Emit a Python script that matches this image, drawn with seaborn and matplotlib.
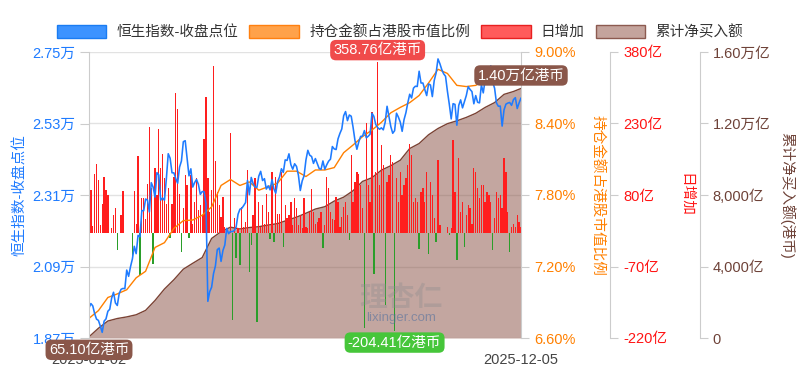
import numpy as np
import pandas as pd
import matplotlib
matplotlib.use("Agg")
import matplotlib.pyplot as plt
import seaborn as sns
from matplotlib.patches import Patch

sns.set_style("white")
plt.rcParams['font.family'] = ['Liberation Sans', 'Noto Sans CJK SC', 'DejaVu Sans']
plt.rcParams['axes.unicode_minus'] = False

# 港股交易日 (剔除香港假期)
hk_holidays = ['2025-01-29', '2025-01-30', '2025-01-31', '2025-04-04', '2025-04-18',
               '2025-04-21', '2025-05-01', '2025-05-05', '2025-07-01', '2025-10-01',
               '2025-10-07', '2025-10-29']
dates = pd.bdate_range('2025-01-02', '2025-12-05')
dates = dates[~dates.isin(pd.to_datetime(hk_holidays))]

# 恒生指数收盘点位 (按月)
hsi_jan = [19623, 19760, 19688, 19448, 19280, 19241, 19065, 18874, 19219, 19287, 19523, 19584,
           19926, 20107, 19779, 19701, 20066, 20198, 20225]
hsi_feb = [20217, 20790, 20597, 20892, 21133, 21522, 21295, 21858, 21815, 22620, 22617, 22977,
           22944, 22577, 23478, 23342, 23035, 23788, 23718, 22941]
hsi_mar = [23006, 22941, 23594, 24370, 24231, 23783, 23782, 23600, 23462, 23959, 24146, 24740,
           24771, 24219, 23690, 23906, 23345, 23483, 23579, 23426, 23120]
hsi_apr = [23206, 23202, 22849, 19828, 20128, 20264, 20681, 20915, 21418, 21467, 21057, 21395,
           21562, 22073, 21910, 21980, 21972, 22008, 22119]
hsi_may = [22505, 22663, 22692, 22775, 22868, 23550, 23109, 23641, 23453, 23345, 23333, 23681,
           23828, 23545, 23602, 23282, 23382, 23258, 23574, 23290]
hsi_jun = [23157, 23512, 23655, 23907, 23793, 24181, 24163, 24367, 24035, 23893, 24061, 23980,
           23711, 23238, 23530, 23690, 24178, 24475, 24325, 24284, 24072]
hsi_jul = [24221, 24069, 23916, 23888, 24148, 23892, 24028, 24140, 24203, 24591, 24518, 24499,
           24826, 24994, 25131, 25539, 25667, 25388, 25562, 25524, 25177, 24773]
hsi_aug = [24507, 24733, 24903, 24911, 25082, 24859, 24907, 24970, 25614, 25520, 25270, 25177,
           25123, 25166, 25105, 25340, 25830, 25525, 25202, 24999, 25078]
hsi_sep = [25617, 25497, 25343, 25059, 25418, 25634, 25938, 26200, 26086, 26388, 26447, 26439,
           26908, 26545, 26546, 26345, 26159, 26519, 26485, 26128, 26623, 26856]
hsi_oct = [27287, 27141, 26958, 26829, 26753, 26291, 25889, 25441, 25910, 25888, 25247, 25859,
           26027, 25781, 25967, 26160, 26434, 26347, 26282, 25907]
hsi_nov = [26159, 25952, 25935, 26486, 26242, 26650, 26697, 26923, 27073, 26573, 26385, 25930,
           25831, 25836, 25220, 25717, 25895, 25928, 25946, 25859]
hsi_dec = [26034, 26095, 25761, 25936, 26085]
hsi = np.array(hsi_jan + hsi_feb + hsi_mar + hsi_apr + hsi_may + hsi_jun + hsi_jul
               + hsi_aug + hsi_sep + hsi_oct + hsi_nov + hsi_dec, dtype=float)

# 日增加 (亿港币)
daily = np.array([
    62, 90, 15, 125, 146, 111, 17, 62, 118, 90, 80, 0, 10, 38, 52, -36, 0, 38, 89, 0,
    0, 0, 0, -53, 89, 20, 162, -88, 73, 74, 30, 104, 222, 94, -64, 136, 80, 218, 136, 167,
    115, 62, 94, -11, 62, 118, 295, 260, 83, -39, 52, 122, 102, -11, 122, 20, 66, 115, 48, 59,
    38, 197, 286, 115, 45, 90, 350, 151, 87, 59, 34, 76, 13, 0, 0, 211, -183, 31, -53, 10,
    -67, 55, 13, 24, 132, -81, -25, 38, 115, -186, 66, 13, 59, 20, 83, 45, -13, 129, -18, 118,
    41, 41, 129, -29, 59, 31, 38, 66, 17, 73, 52, 17, 38, 10, 73, 13, 10, 45, 92, 45,
    20, 24, 31, 45, -32, 17, 118, 94, 45, 30, 27, 76, 66, 13, 34, 55, 66, 38, -15, 164,
    66, 108, 129, 125, 101, 52, -200, 232, 101, 66, 255, -85, 129, 358.76, 101, 185, 143, -151, 108, 122,
    164, 150, -204.41, 115, 66, 129, 80, 101, 115, 143, 188, 164, 66, 73, 66, -34, 87, 94, 66, 129,
    -43, 108, 80, 31, -18, 153, 17, 0, 0, 0, 13, -4, 10, 195, 87, -57, 157, 45, 66, -29,
    38, 59, 52, 20, 136, 129, 94, 73, 101, 101, 66, 87, 80, 66, -36, 31, 87, 73, 80, 52,
    157, 129, 45, -39, 13, 20, 13, 38, 24, 13,
])

# 每5个交易日取样: 持仓金额占港股市值比例(%) 与 累计净买入额(亿港币)
holding_pct = [6.765, 6.83, 6.94, 6.97, 7.005, 7.105, 7.16, 7.36, 7.40, 7.52, 7.585, 7.59,
               7.63, 7.70, 7.88, 7.93, 7.88, 7.91, 7.84, 7.87, 7.90, 8.00, 8.00, 7.955,
               8.01, 8.01, 8.03, 8.155, 8.22, 8.29, 8.345, 8.41, 8.49, 8.535, 8.575, 8.635,
               8.74, 8.855, 8.82, 8.72, 8.71, 8.72, 8.765, 8.78, 8.78, 8.79, 8.80]
cum_buy = [65.10, 545, 950, 1090, 1180, 1300, 1545, 2100, 2740, 3260, 3850, 4180,
           4500, 5570, 5950, 6200, 6100, 6180, 6226, 6321, 6400, 6585, 6760, 6980,
           7215, 7345, 7660, 7880, 8240, 8760, 8967, 9390, 9640, 9945, 10600, 10880,
           11370, 11720, 11990, 12150, 12340, 12570, 12900, 13170, 13630, 13790, 13960]

assert len(dates) == len(hsi) == len(daily)
pos = np.arange(len(dates))              # 类目轴: 交易日顺序
pos_w = np.r_[pos[::5], pos[-1]]
cum_buy = np.array(cum_buy)
holding_pct = np.array(holding_pct)

BLUE, ORANGE, RED, BROWN = '#1E7BFF', '#FF8000', '#FF1414', '#6E4238'
GRID = '#E2E2E2'
AX_LINE = '#CCCCCC'

fig = plt.figure(figsize=(8, 3.75), dpi=100)
L, R, B, T = 89 / 800, 521 / 800, 1 - 338 / 375, 1 - 52 / 375
ax = fig.add_axes([L, B, R - L, T - B])
ax_cum = ax.twinx()
ax_bar = ax.twinx()
ax_pct = ax.twinx()

ax_cum.set_zorder(1)
ax_bar.set_zorder(2)
ax_pct.set_zorder(3)
ax.set_zorder(4)
ax_cum.patch.set_visible(True)
ax_cum.patch.set_facecolor('white')
for a in (ax_bar, ax_pct, ax):
    a.patch.set_visible(False)

# 累计净买入额 (面积)
ax_cum.fill_between(pos_w, 0, cum_buy, color='#884F42', alpha=0.5, lw=0)
sns.lineplot(x=pos_w, y=cum_buy, ax=ax_cum, color='#7A4234', lw=1.0)

# 日增加 (柱)
bar_colors = np.where(daily >= 0, '#FF1E1E', '#2A9E2A')
ax_bar.bar(pos, daily, width=0.7, color=bar_colors, lw=0)

# 持仓比例 / 恒指
sns.lineplot(x=pos_w, y=holding_pct, ax=ax_pct, color=ORANGE, lw=1.0)
sns.lineplot(x=pos, y=hsi, ax=ax, color=BLUE, lw=1.15)

for a in (ax, ax_cum, ax_bar, ax_pct):
    a.set_xlim(pos[0], pos[-1])
    for s in a.spines.values():
        s.set_visible(False)

ax.set_ylim(18700, 27500)
ax_pct.set_ylim(6.6, 9.0)
ax_bar.set_ylim(-220, 380)
ax_cum.set_ylim(0, 16000)

hsi_ticks = np.linspace(18700, 27500, 5)
ax.set_yticks(hsi_ticks, [f'{v / 10000:.2f}万' for v in hsi_ticks])
pct_ticks = np.linspace(6.6, 9.0, 5)
ax_pct.set_yticks(pct_ticks, [f'{v:.2f}%' for v in pct_ticks])
bar_ticks = np.linspace(-220, 380, 5)
ax_bar.set_yticks(bar_ticks, [f'{v:.0f}亿' for v in bar_ticks])
cum_ticks = np.linspace(0, 16000, 5)
cum_labels = []
for v in cum_ticks:
    if v == 0:
        cum_labels.append('0')
    elif v >= 10000:
        cum_labels.append(f'{v / 10000:.2f}万亿')
    else:
        cum_labels.append(f'{v:,.0f}亿')
ax_cum.set_yticks(cum_ticks, cum_labels)

ax_cum.yaxis.grid(True, color=GRID, lw=1)
ax_cum.xaxis.grid(False)

ax.spines['left'].set_visible(True)
ax.spines['left'].set_color(AX_LINE)
ax_pct.spines['right'].set_visible(True)
ax_pct.spines['right'].set_color(AX_LINE)
ax_bar.spines['right'].set_visible(True)
ax_bar.spines['right'].set_color(AX_LINE)
ax_bar.spines['right'].set_position(('outward', 89 * 0.72))
ax_cum.spines['right'].set_visible(True)
ax_cum.spines['right'].set_color(AX_LINE)
ax_cum.spines['right'].set_position(('outward', 179 * 0.72))

fs = 10.5
ax.tick_params(axis='y', length=6.3, color=AX_LINE, labelcolor=BLUE, labelsize=fs, pad=3.5)
ax_pct.tick_params(axis='y', length=5.5, color=AX_LINE, labelcolor=ORANGE, labelsize=fs, pad=4)
ax_bar.tick_params(axis='y', length=5.8, color=AX_LINE, labelcolor=RED, labelsize=fs, pad=3.6)
ax_cum.tick_params(axis='y', length=5.8, color=AX_LINE, labelcolor=BROWN, labelsize=fs, pad=3.4)

ax.set_xticks([pos[0], pos[-1]], [dates[0].strftime('%Y-%m-%d'), dates[-1].strftime('%Y-%m-%d')])
ax.tick_params(axis='x', length=0, labelsize=fs, labelcolor='#444444', pad=11)

ax.set_ylabel('恒生指数-收盘点位', color=BLUE, fontsize=fs, rotation=90, ha='center', va='center')
ax.yaxis.set_label_coords(-0.16, 0.5)
ax_pct.set_ylabel('持仓金额占港股市值比例', color=ORANGE, fontsize=fs, rotation=-90, ha='center', va='center')
ax_pct.yaxis.set_label_coords(1.176, 0.5)
ax_bar.set_ylabel('日增加', color=RED, fontsize=fs, rotation=-90, ha='center', va='center')
ax_bar.yaxis.set_label_coords(1.382, 0.5)
ax_cum.set_ylabel('累计净买入额(港币)', color=BROWN, fontsize=fs, rotation=-90, ha='center', va='center')
ax_cum.yaxis.set_label_coords(1.616, 0.5)


# 标注: 最大/最小日增加, 累计起点/终点
def tag(x, y, trans, text, fc, dy):
    ax.annotate(text, xy=(x, y), xycoords=trans, xytext=(0, dy), textcoords='offset pixels',
                ha='center', va='center', color='white', fontsize=fs,
                bbox=dict(boxstyle='round,pad=0.22,rounding_size=0.4', fc=fc, ec='none'),
                annotation_clip=False, zorder=10)


i_max = int(np.argmax(daily))
i_min = int(np.argmin(daily))
tag(pos[i_max], daily[i_max], ax_bar.transData, f'{daily[i_max]:.2f}亿港币', '#F04B4B', 12)
tag(pos[i_min], daily[i_min], ax_bar.transData, f'{daily[i_min]:.2f}亿港币', '#46C63A', -12)
tag(pos_w[0], cum_buy[0], ax_cum.transData, f'{cum_buy[0]:.2f}亿港币', '#8A574A', -13)
tag(pos_w[-1], cum_buy[-1], ax_cum.transData, f'{cum_buy[-1] / 10000:.2f}万亿港币', '#8A574A', 13)

# 水印
fig.text(0.501, 1 - 299 / 375, '理杏仁', ha='center', va='center', fontsize=20,
         color='#8C8C8C', alpha=0.35, zorder=5, fontweight='bold')
fig.text(0.501, 1 - 318 / 375, 'lixinger.com', ha='center', va='center', fontsize=9.5,
         color='#4E6E9E', alpha=0.55, zorder=5)

# 图例
handles = [
    Patch(facecolor='#3C93FF', edgecolor='#1A7CF2', lw=1, label='恒生指数-收盘点位'),
    Patch(facecolor='#FFA24A', edgecolor='#FF8010', lw=1, label='持仓金额占港股市值比例'),
    Patch(facecolor='#FF5B5B', edgecolor='#E82020', lw=1, label='日增加'),
    Patch(facecolor='#C4A49D', edgecolor='#8C5A50', lw=1, label='累计净买入额'),
]
fig.legend(handles=handles, loc='center', bbox_to_anchor=(0.5, 1 - 32 / 375), ncol=4,
           frameon=False, handlelength=3.4, handleheight=1.0, handletextpad=0.7,
           columnspacing=0.75, fontsize=fs, labelcolor='#333333')

fig.savefig('out.png', dpi=100)
